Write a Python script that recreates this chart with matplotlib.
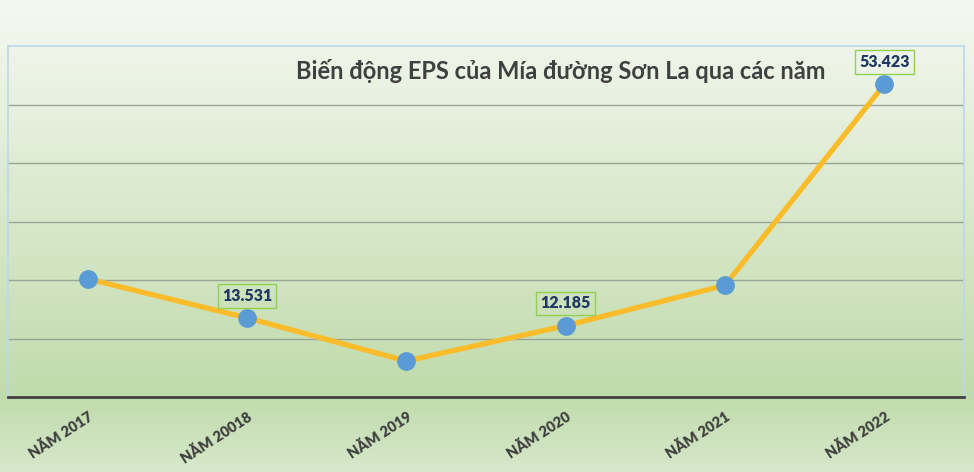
import numpy as np
import matplotlib.pyplot as plt
from matplotlib.colors import LinearSegmentedColormap

# Dữ liệu EPS (đồng/cổ phiếu)
years = ["NĂM 2017", "NĂM 20018", "NĂM 2019", "NĂM 2020", "NĂM 2021", "NĂM 2022"]
eps = [20200, 13531, 6150, 12185, 19100, 53423]
labeled = [1, 3, 5]  # các điểm có nhãn giá trị

plt.rcParams['font.family'] = ['Lato', 'DejaVu Sans']

fig = plt.figure(figsize=(9.74, 4.72), dpi=100)

# nền gradient xanh lá nhạt
bg = fig.add_axes([0, 0, 1, 1], zorder=-1)
cmap = LinearSegmentedColormap.from_list(
    'bg', [(0.0, '#f4f8f1'), (0.10, '#eff5e9'), (0.84, '#c0dbab'), (1.0, '#d6e8cb')])
bg.imshow(np.linspace(0, 1, 256).reshape(-1, 1), aspect='auto', cmap=cmap,
          extent=[0, 1, 0, 1], origin='upper')
bg.axis('off')

ax = fig.add_axes([8 / 974, 75 / 472, 956 / 974, 351 / 472])
ax.set_facecolor('none')
x = np.arange(len(years))
ax.plot(x, eps, color='#fbbc2c', lw=3.8, zorder=3, solid_capstyle='round')
ax.plot(x, eps, 'o', color='#5b9bd5', ms=12.5, zorder=4)

for i in labeled:
    txt = f"{eps[i]:,}".replace(',', '.')
    ax.annotate(txt, (x[i], eps[i]), xytext=(0, 16), textcoords='offset points',
                ha='center', va='center', fontsize=11.5, fontweight='heavy', color='#1f3864',
                bbox=dict(boxstyle='square,pad=0.25', fc='none', ec='#92d050', lw=1), zorder=5)

ax.set_xlim(-0.5, len(years) - 0.5)
ax.set_ylim(0, 60000)
ax.set_yticks(np.arange(10000, 60000, 10000))
ax.yaxis.grid(True, color='#9aa595', lw=1)
ax.set_axisbelow(True)
ax.tick_params(axis='y', left=False, labelleft=False)
ax.tick_params(axis='x', length=0, pad=9)
ax.set_xticks(x)
ax.set_xticklabels(years, rotation=33, ha='right', rotation_mode='anchor',
                   fontsize=10.5, fontweight='heavy', color='#404040')
for s in ['left', 'top', 'right']:
    ax.spines[s].set_color('#bdd7ee')
    ax.spines[s].set_linewidth(1.2)
ax.spines['bottom'].set_color('#404040')
ax.spines['bottom'].set_linewidth(2)

ax.text(0.578, 0.93, "Biến động EPS của Mía đường Sơn La qua các năm",
        transform=ax.transAxes, ha='center', va='center', fontsize=17,
        fontweight='bold', color='#404040')

fig.savefig('out.png', dpi=100)
